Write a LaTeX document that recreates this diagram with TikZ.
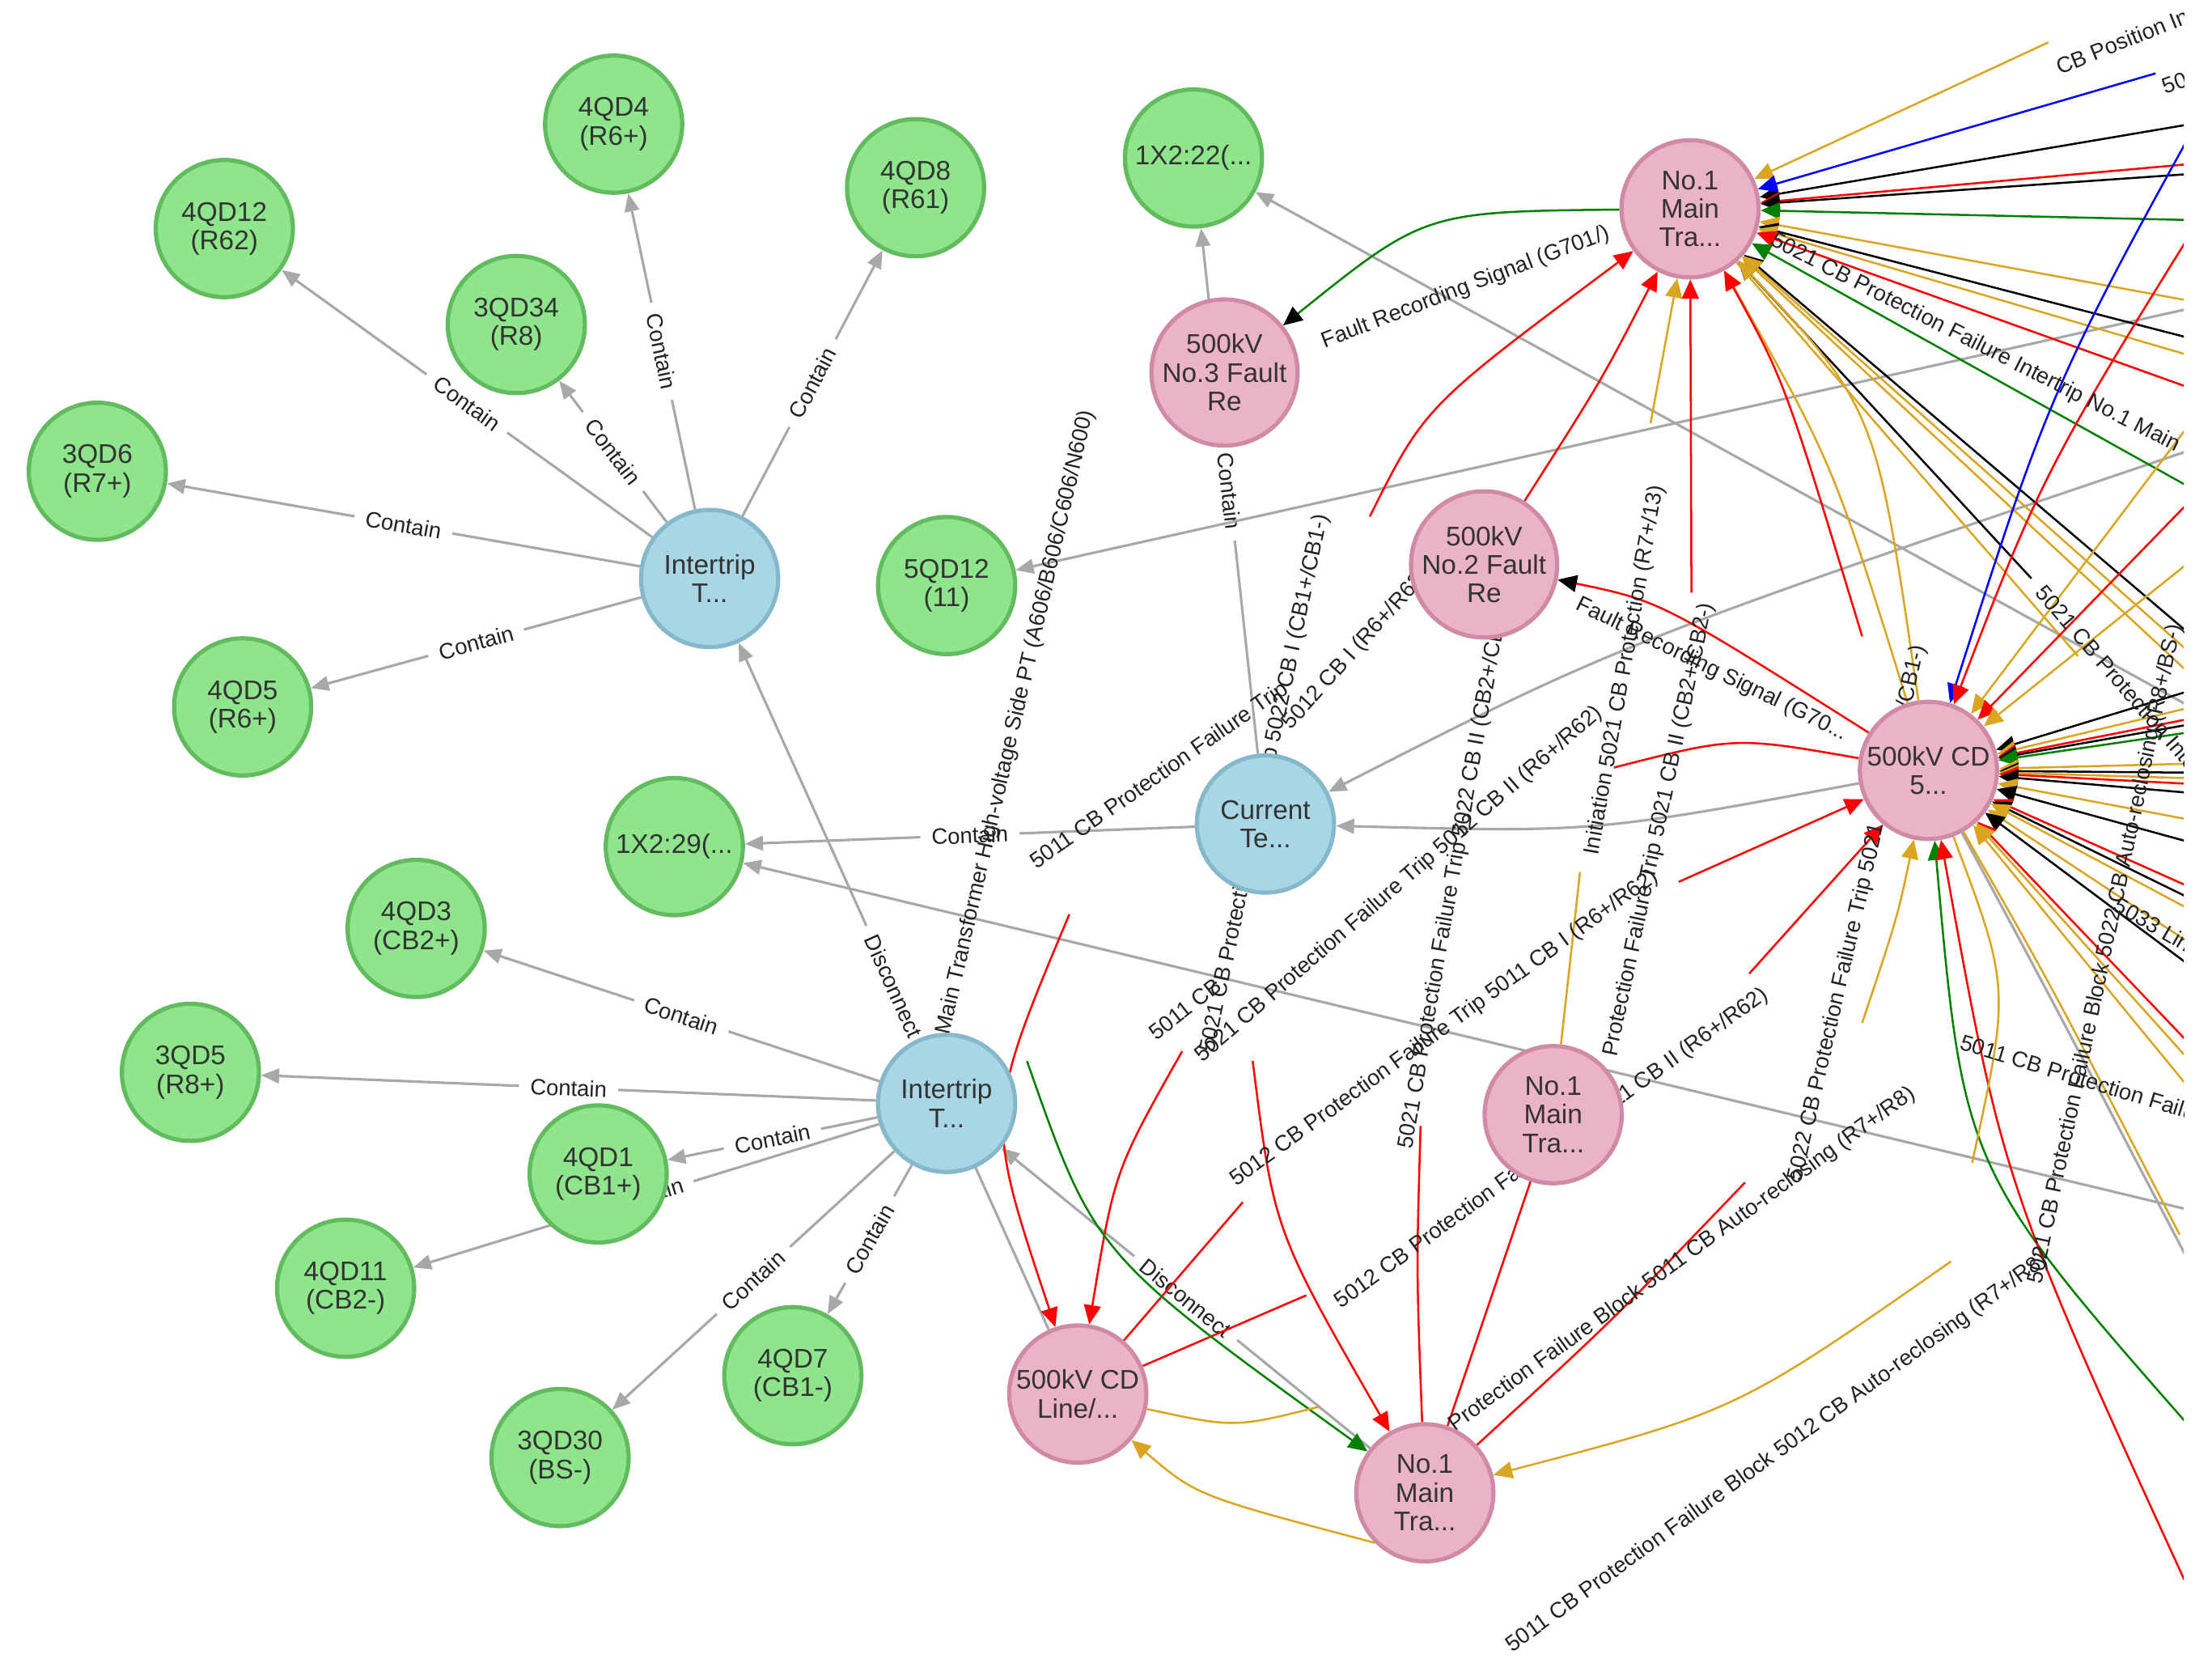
\documentclass[tikz,border=0pt]{standalone}
\usepackage{fontspec}
\setmainfont{Liberation Sans}
\usetikzlibrary{arrows.meta}
\definecolor{leaffill}{RGB}{143,229,139}
\definecolor{leafedge}{RGB}{98,188,94}
\definecolor{hubfill}{RGB}{169,214,229}
\definecolor{hubedge}{RGB}{134,184,204}
\definecolor{devfill}{RGB}{235,180,198}
\definecolor{devedge}{RGB}{208,138,166}
\definecolor{linkgray}{RGB}{168,168,168}
\definecolor{ntext}{RGB}{51,51,51}
\definecolor{ltext}{RGB}{34,34,34}
\definecolor{sgold}{RGB}{218,165,32}
\definecolor{sgreen}{RGB}{0,128,0}
\definecolor{sblue}{RGB}{0,0,255}
\pgfdeclarelayer{edges}
\pgfsetlayers{edges,main}
\newcommand\nodefont{\fontsize{13.6}{14.4}\selectfont}
\newcommand\lblfont{\fontsize{11.2}{12}\selectfont}
\tikzset{
  bubble/.style={circle, minimum size=24.3mm, inner sep=0pt, line width=0.75mm, align=center, font=\nodefont, text=ntext},
  leaf/.style={bubble, draw=leafedge, fill=leaffill},
  hub/.style={bubble, draw=hubedge, fill=hubfill},
  dev/.style={bubble, draw=devedge, fill=devfill},
  link/.style={draw=linkgray, line width=0.45mm, -{Triangle[length=3.2mm,width=2.6mm]}},
  bare/.style={draw=linkgray, line width=0.45mm},
  lbl/.style={sloped, fill=white, inner xsep=2mm, inner ysep=0.4mm, font=\lblfont, text=ltext},
  sig/.style={line width=0.36mm},
  tip/.style={-{Triangle[length=3.4mm,width=3mm]}},
  ktip/.style={-{Triangle[length=3.4mm,width=3mm,color=black]}},
  tag/.style={font=\lblfont, text=ltext, inner sep=0pt}
}
\begin{document}
\begin{tikzpicture}[x=0.25mm,y=-0.25mm]
\useasboundingbox (0,0) rectangle (1568,1181);

% terminal nodes
\node[leaf] (q4d4) at (435,88) {4QD4\\(R6+)};
\node[leaf] (q4d12) at (159,162) {4QD12\\(R62)};
\node[leaf] (q4d8) at (649,133) {4QD8\\(R61)};
\node[leaf] (q3d34) at (366,230) {3QD34\\(R8)};
\node[leaf] (q3d6) at (69,334) {3QD6\\(R7+)};
\node[leaf] (q4d5) at (172,501) {4QD5\\(R6+)};
\node[leaf] (q5d12) at (671,415) {5QD12\\(11)};
\node[leaf] (x22) at (846,112) {1X2:22(...};
\node[leaf] (x29) at (478,600) {1X2:29(...};
\node[leaf] (q4d3) at (295,658) {4QD3\\(CB2+)};
\node[leaf] (q3d5) at (135,760) {3QD5\\(R8+)};
\node[leaf] (q4d1) at (424,832) {4QD1\\(CB1+)};
\node[leaf] (q4d11) at (245,913) {4QD11\\(CB2-)};
\node[leaf] (q4d7) at (562,975) {4QD7\\(CB1-)};
\node[leaf] (q3d30) at (397,1033) {3QD30\\(BS-)};
% circuits
\node[hub] (itop) at (503,410) {Intertrip\\T...};
\node[hub] (ibot) at (671,782) {Intertrip\\T...};
\node[hub] (cur) at (897,584) {Current\\Te...};
% devices
\node[dev] (t1) at (1198,148) {No.1\\Main\\Tra...};
\node[dev] (no3) at (868,264) {500kV\\No.3 Fault\\Re};
\node[dev] (no2) at (1052,400) {500kV\\No.2 Fault\\Re};
\node[dev] (cd5) at (1367,546) {500kV CD\\5...};
\node[dev] (mid1) at (1101,790) {No.1\\Main\\Tra...};
\node[dev] (cdl) at (764,988) {500kV CD\\Line/...};
\node[dev] (b1) at (1010,1058) {No.1\\Main\\Tra...};

\begin{pgfonlayer}{edges}
\clip (0,0) rectangle (1548,1181);
% free ends
\coordinate (g5q) at (1600,208);
\coordinate (gcur) at (1600,303);
\coordinate (gx22) at (1600,527);
\coordinate (gx29) at (1600,869);
\coordinate (gy1) at (1552,895);
\coordinate (cpos) at (1452,30);
\coordinate (bl1) at (1528,52);
\coordinate (bl2) at (1600,10);
\coordinate (k4) at (1440,410);
\coordinate (au5) at (1473,465);
\coordinate (au6) at (1170,300);
\coordinate (au7) at (1120,618);
\coordinate (au8) at (935,997);
\coordinate (au9) at (1383,894);
\coordinate (au10) at (1320,725);
\coordinate (au11) at (1398,824);
\coordinate (au12) at (1545,875);
\coordinate (gr3) at (728,752);
\coordinate (gr4) at (1560,1020);
\coordinate (r3) at (1320,451);
\coordinate (r4) at (971,366);
\coordinate (r5) at (1199,420);
\coordinate (r6) at (758,648);
\coordinate (r7) at (838,745);
\coordinate (r8) at (888,752);
\coordinate (r9) at (1007,798);
\coordinate (r10) at (1237,838);
\coordinate (r11) at (926,918);
\coordinate (r12) at (881,852);
\coordinate (r13) at (1190,625);
\coordinate (r14) at (1240,690);
\coordinate (r15) at (1144,544);
\coordinate (r16) at (1560,1145);
\coordinate (r17) at (1600,90);

% contain / disconnect
\draw[link] (itop) -- node[lbl]{Contain} (q4d4);
\draw[link] (itop) -- node[lbl]{Contain} (q4d12);
\draw[link] (itop) -- node[lbl]{Contain} (q4d8);
\draw[link] (itop) -- node[lbl]{Contain} (q3d34);
\draw[link] (itop) -- node[lbl]{Contain} (q3d6);
\draw[link] (itop) -- node[lbl]{Contain} (q4d5);
\draw[link] (ibot) -- node[lbl]{Contain} (q4d3);
\draw[link] (ibot) -- node[lbl]{Contain} (q3d5);
\draw[link] (ibot) -- node[lbl]{Contain} (q4d1);
\draw[link] (ibot) -- node[lbl]{Contain} (q4d11);
\draw[link] (ibot) -- node[lbl]{Contain} (q4d7);
\draw[link] (ibot) -- node[lbl]{Contain} (q3d30);
\draw[link] (cur) -- node[lbl]{Contain} (x29);
\draw[link] (cur) -- node[lbl]{Contain} (x22);
\draw[link] (cdl) -- node[lbl]{Disconnect} (itop);
\draw[link] (b1) -- node[lbl]{Disconnect} (ibot);
\draw[link] (cd5) .. controls (1130,590) .. (cur);
\draw[link] (g5q) -- (q5d12);
\draw[link] (gcur) .. controls (1150,455) .. (cur);
\draw[link] (gx22) -- (x22);
\draw[link] (gx29) -- (x29);
\draw[bare] (cd5) .. controls (1450,700) .. (gy1);

% signals into the upper transformer
\foreach \yy/\cc [count=\i] in {80/black,112/red,120/black,157/sgreen,222/sgold,252/black,266/sgold,292/red,372/sgreen,490/black,505/sgold,522/sgold}{
  \coordinate (ft\i) at (1600,\yy);
  \draw[sig,\cc,tip] (ft\i) -- (t1);
}
\draw[sig,sgold,tip] (cpos) -- (t1);
\draw[sig,sblue,tip] (bl1) -- (t1);
\draw[sig,black,tip] (k4) -- (t1);
\draw[sig,sgold] (t1) -- (au5);
\draw[sig,sgold,tip] (cd5) .. controls (1300,330) .. (t1);
\draw[sig,sgold,tip] (cd5) .. controls (1330,290) .. (t1);
\draw[sig,red,tip] (r3) .. controls (1265,270) .. (t1);
\draw[sig,red,tip] (r4) .. controls (1010,288) .. (t1);
\draw[sig,red,tip] (no2) .. controls (1135,270) .. (t1);
\draw[sig,red,tip] (r5) -- (t1);
\draw[sig,sgold,tip] (au6) -- (t1);
\draw[sig,sgold] (mid1) -- (au7);
\draw[sig,sgreen,ktip] (t1) .. controls (1010,150) .. (no3);

% signals into the 500kV CD 5 device
\foreach \yy/\cc [count=\i] in {237/sgold,306/red,360/sgold,475/black,490/sgold,500/red,505/black,512/sgreen,540/sgold,548/black,553/sgold,558/red,566/black,590/sgold,610/black,650/red,660/black,670/sgold,700/sgold,720/black,790/red,805/sgold,830/sgold}{
  \coordinate (fc\i) at (1600,\yy);
  \draw[sig,\cc,tip] (fc\i) -- (cd5);
}
\draw[sig,sblue,tip] (bl2) .. controls (1455,270) .. (cd5);
\draw[sig,red,tip] (r17) .. controls (1450,330) .. (cd5);
\draw[sig,red,tip] (r13) -- (cd5);
\draw[sig,red,tip] (r14) -- (cd5.230);
\draw[sig,red] (r15) .. controls (1230,522) .. (cd5);
\draw[sig,red,ktip] (cd5) .. controls (1177,426) .. (no2);
\draw[sig,sgold,tip] (au10) .. controls (1345,650) .. (cd5);
\draw[sig,sgreen,tip] (gr4) .. controls (1392,829) .. (cd5);
\draw[sig,red,tip] (r16) .. controls (1420,840) .. (cd5);
\draw[sig,sgold] (au11) .. controls (1425,700) .. (cd5);
\draw[sig,sgold] (cd5) .. controls (1455,700) .. (au12);

% signals round the line device and lower transformer
\draw[sig,red,tip] (r6) .. controls (698,791) .. (cdl);
\draw[sig,red,tip] (r7) .. controls (790,830) .. (cdl);
\draw[sig,red] (cdl) -- (r11);
\draw[sig,red] (cdl) -- (r12);
\draw[sig,sgreen,tip] (gr3) .. controls (776,889) .. (b1);
\draw[sig,red,tip] (r8) .. controls (903,872) .. (b1);
\draw[sig,red] (r9) .. controls (1004,900) .. (b1);
\draw[sig,red] (mid1) -- (b1);
\draw[sig,red] (b1) .. controls (1144,935) .. (r10);
\draw[sig,sgold,tip] (b1.225) .. controls (848,1060) .. (cdl);
\draw[sig,sgold] (cdl) .. controls (875,1012) .. (au8);
\draw[sig,sgold,tip] (au9) .. controls (1231,1000) .. (b1);

% signal names
\node[tag,rotate=21] (fr1) at (1039,204) {Fault Recording Signal (G701/)};
\node[tag,rotate=-26,anchor=west] (fr2) at (1118,428) {Fault Recording Signal (G70...};
\node[tag,rotate=77] (pt) at (720,512) {Main Transformer High-voltage Side PT (A606/B606/C606/N600)};
\node[tag,rotate=35] (s1) at (822,550) {5011 CB Protection Failure Trip};
\node[tag,rotate=48,anchor=west] (s2) at (912,515) {5012 CB I (R6+/R62)};
\node[tag,rotate=78] (s3) at (897,555) {5021 CB Protection Failure Trip 5022 CB I (CB1+/CB1-)};
\node[tag,rotate=38] (s4) at (840,715) {5011 CB};
\node[tag,rotate=41] (s5) at (992,627) {5021 CB Protection Failure Trip 5012 CB II (R6+/R62)};
\node[tag,rotate=80] (s6) at (1031,620) {5021 CB Protection Failure Trip 5022 CB II (CB2+/CB2-)};
\node[tag,rotate=80] (s7) at (1152,475) {Initiation 5021 CB Protection (R7+/13)};
\node[tag,rotate=78] (s8) at (1176,588) {Protection Failure Trip 5021 CB II (CB2+/CB2-)};
\node[tag,rotate=36] (s9) at (1024,729) {5012 CB Protection Failure Trip 5011 CB I (R6+/R62)};
\node[tag,rotate=36] (s10) at (1100,814) {5012 CB Protection Failure Trip 5011 CB II (R6+/R62)};
\node[tag,rotate=36] (s11) at (1166,912) {5012 CB Protection Failure Block 5011 CB Auto-reclosing (R7+/R8)};
\node[tag,rotate=36] (s12) at (1260,1030) {5011 CB Protection Failure Block 5012 CB Auto-reclosing (R7+/R8)};
\node[tag,rotate=77,anchor=west] (s13) at (1273,837) {5022 CB Protection Failure Trip 5021 CB I (CB1+/CB1-)};
\node[tag,rotate=-27,anchor=west] (s14) at (1256,170) {5021 CB Protection Failure Intertrip No.1 Main Transformer};
\node[tag,rotate=-49,anchor=west] (s15) at (1445,418) {5021 CB Protection Intertrip};
\node[tag,rotate=78,anchor=west] (s16) at (1443,910) {5021 CB Protection Failure Block 5022 CB Auto-reclosing (R8+/BS-)};
\node[tag,rotate=-30,anchor=west] (s17) at (1500,640) {5033 Line};
\node[tag,rotate=-17,anchor=west] (s18) at (1390,738) {5011 CB Protection Failure};
\node[tag,rotate=22,anchor=west] (s19) at (1458,48) {CB Position Indication};
\node[tag,rotate=20,anchor=west] (s20) at (1533,62) {5012 CB};
\end{pgfonlayer}
\end{tikzpicture}
\end{document}
